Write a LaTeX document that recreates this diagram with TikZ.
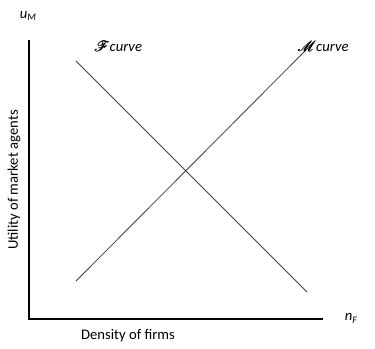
\documentclass[tikz,border=0pt]{standalone}
\usepackage{fontspec}
\setmainfont{Carlito}
\usepackage{mathrsfs}
\newcommand{\fakebold}[1]{\rlap{#1}\kern0.25pt\rlap{#1}\kern0.25pt#1}
\newcommand{\subsc}[1]{\raisebox{-2.2pt}{\fontsize{7.5}{8}\selectfont\itshape #1}}
\begin{document}
\begin{tikzpicture}[x=0.75pt,y=-0.75pt,
  axis/.style={line width=1pt,black},
  curve/.style={line width=0.6pt,black!75},
  lbl/.style={font=\fontsize{11}{13}\selectfont,inner sep=0pt}]
\useasboundingbox (0,0) rectangle (375,349);
\coordinate (top) at (29,40);
\coordinate (origin) at (29,319);
\coordinate (right) at (323,319);
\draw[axis] (top) -- (origin) -- (right);
\coordinate (f1) at (76,61);
\coordinate (f2) at (307,292);
\coordinate (m1) at (76,281);
\coordinate (m2) at (305,51);
\draw[curve] (f1) -- (f2);
\draw[curve] (m1) -- (m2);
\node[lbl] (uM) at (28,16) {\itshape u\subsc{M}};
\node[lbl] (nF) at (351,318) {\itshape n\subsc{F}};
\node[lbl] (xlab) at (128,336) {Density of firms};
\node[lbl,rotate=90] (ylab) at (14,180) {Utility of market agents};
\node[lbl] (flab) at (118,46) {\fakebold{$\mathscr{F}$}\itshape curve};
\node[lbl] (mlab) at (323,46) {\fakebold{$\mathscr{M}$}\itshape curve};
\end{tikzpicture}
\end{document}
